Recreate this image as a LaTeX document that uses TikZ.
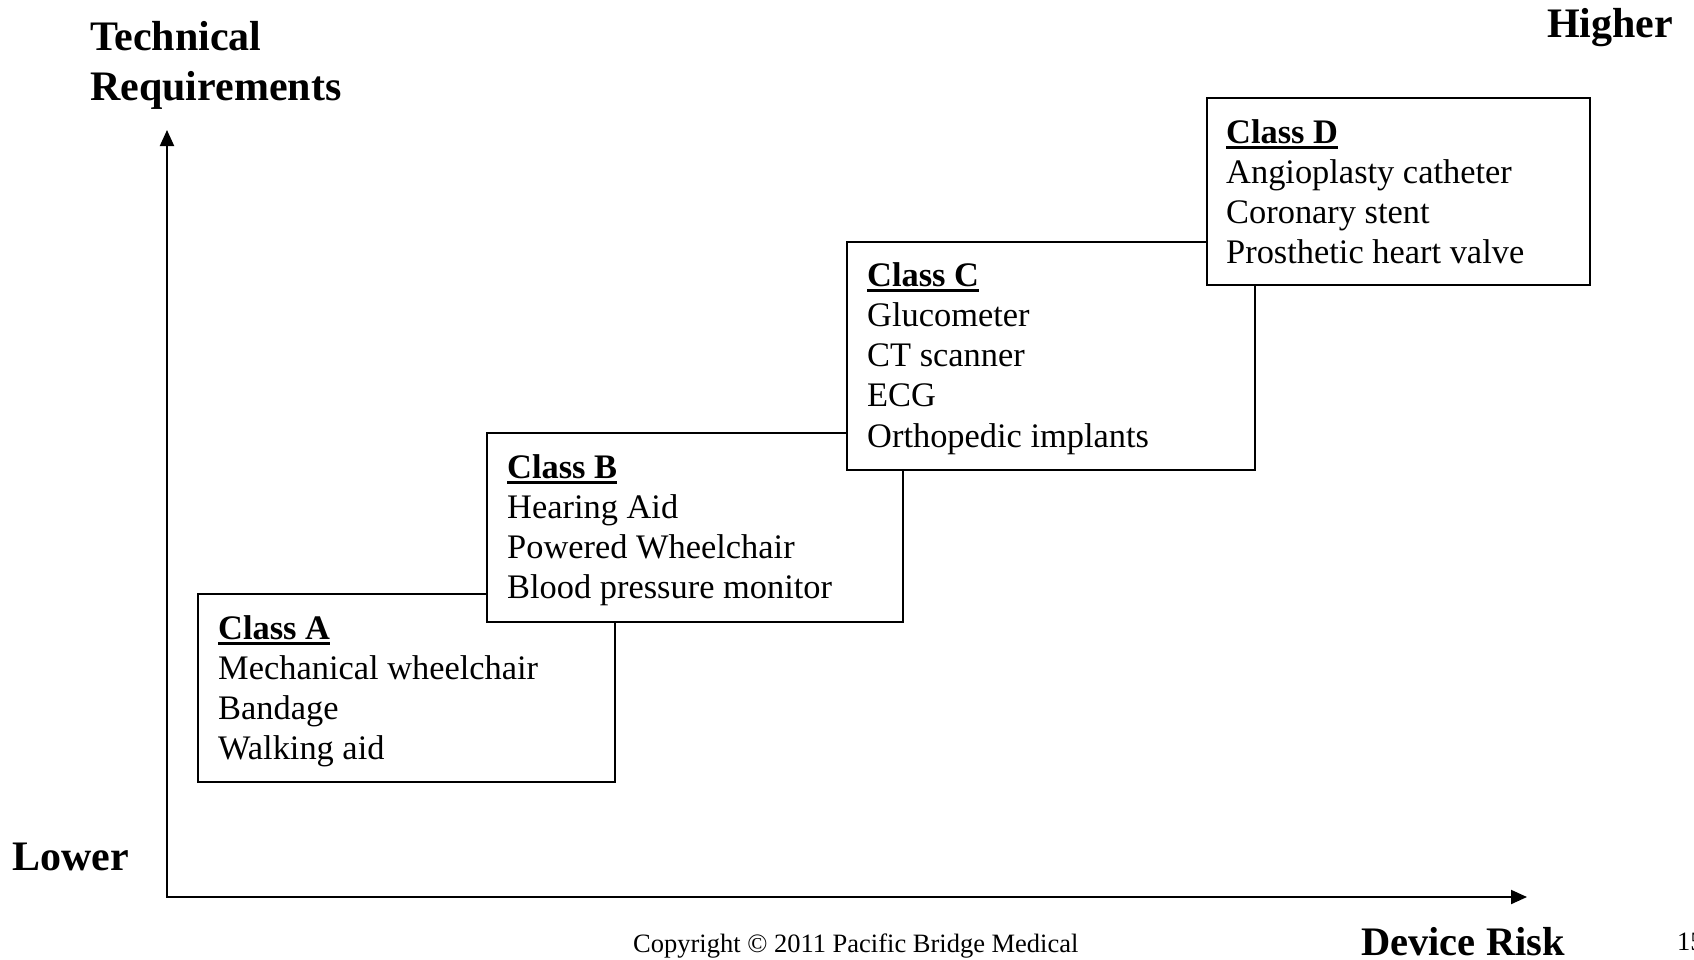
\documentclass[tikz,border=0pt]{standalone}
\usepackage{fontspec}
\setmainfont{Liberation Serif}
\usetikzlibrary{arrows.meta,calc}

% bold class title with a heavy underline
\newcommand\classhead[1]{\leavevmode\setbox0\hbox{\bfseries #1}\rlap{\rule[-5.5pt]{\wd0}{2.2pt}}\box0}

\begin{document}
\begin{tikzpicture}[x=1pt,y=-1pt,
  classbox/.style={draw, line width=2pt, fill=white, inner sep=0pt, outer sep=0pt, anchor=north west},
  itemlist/.style={inner sep=0pt, anchor=base west, font=\fontsize{34.4}{40.3}\selectfont},
  heading/.style={inner sep=0pt, anchor=base west, font=\fontsize{42}{50}\selectfont\bfseries},
  footer/.style={inner sep=0pt, anchor=base west, font=\fontsize{26.5}{30}\selectfont},
  axis/.style={line width=2pt, {Triangle[length=16pt,width=14pt]}-{Triangle[length=16pt,width=14pt]}}
]
\useasboundingbox (0,0) rectangle (1694,959);

% axes
\coordinate (ytip) at (167,130);
\coordinate (origin) at (167,897);
\coordinate (xtip) at (1527,897);
\draw[axis] (ytip) -- (origin) -- (xtip);

% axis labels
\node[heading] (ylabel) at (90,50) {\parbox[t]{400pt}{Technical\\Requirements}};
\node[heading] (higher) at (1547,37) {Higher};
\node[heading] (lower) at (12,870) {Lower};
\node[heading, font=\fontsize{40.5}{48}\selectfont\bfseries] (xlabel) at (1361,955) {Device Risk};

% class boxes, each one laid over the previous
\node[classbox, minimum width=417pt, minimum height=188pt] (boxA) at (198,594) {};
\node[itemlist] (listA) at ($(boxA.north west)+(20,45)$)
  {\parbox[t]{360pt}{\classhead{Class A}\\Mechanical wheelchair\\Bandage\\Walking aid}};

\node[classbox, minimum width=416pt, minimum height=189pt] (boxB) at (487,433) {};
\node[itemlist] (listB) at ($(boxB.north west)+(20,45)$)
  {\parbox[t]{360pt}{\classhead{Class B}\\Hearing Aid\\Powered Wheelchair\\Blood pressure monitor}};

\node[classbox, minimum width=408pt, minimum height=228pt] (boxC) at (847,242) {};
\node[itemlist] (listC) at ($(boxC.north west)+(20,44)$)
  {\parbox[t]{360pt}{\classhead{Class C}\\Glucometer\\CT scanner\\ECG\\Orthopedic implants}};

\node[classbox, minimum width=383pt, minimum height=187pt] (boxD) at (1207,98) {};
\node[itemlist] (listD) at ($(boxD.north west)+(19,45)$)
  {\parbox[t]{360pt}{\classhead{Class D}\\Angioplasty catheter\\Coronary stent\\Prosthetic heart valve}};

% footer
\node[footer] (copyright) at (633,952) {Copyright © 2011 Pacific Bridge Medical};
\node[footer] (pagenum) at (1677,950) {15};
\end{tikzpicture}
\end{document}
